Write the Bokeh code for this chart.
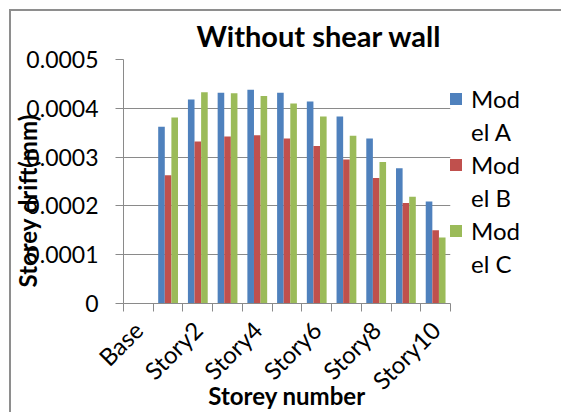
import math
from bokeh.plotting import figure
from bokeh.models import (ColumnDataSource, FixedTicker, Legend, LegendItem,
                          Title, Range1d, GlobalInlineStyleSheet)
from bokeh.transform import dodge
from bokeh.embed import file_html
from bokeh.resources import INLINE

# Storey drift (mm) per storey for three building models, no shear wall
categories = ["Base", "Story1", "Story2", "Story3", "Story4", "Story5",
              "Story6", "Story7", "Story8", "Story9", "Story10"]
model_a = [0, 0.000362, 0.000418, 0.000432, 0.000438, 0.000432,
           0.000414, 0.000383, 0.000338, 0.000277, 0.000209]
model_b = [0, 0.000263, 0.000332, 0.000342, 0.000345, 0.000338,
           0.000323, 0.000295, 0.000257, 0.000206, 0.000150]
model_c = [0, 0.000381, 0.000433, 0.000431, 0.000425, 0.000410,
           0.000383, 0.000344, 0.000290, 0.000219, 0.000135]
# legend entries wrap onto two lines in a narrow legend column
series_lines = [("Mod", "el A"), ("Mod", "el B"), ("Mod", "el C")]
series_colors = ["#4F81BD", "#C0504D", "#9BBB59"]
y_ticks = [0, 0.0001, 0.0002, 0.0003, 0.0004, 0.0005]
y_tick_labels = ["0", "0.0001", "0.0002", "0.0003", "0.0004", "0.0005"]

FONT = "Lato"
GRAY = "#8a8a8a"

# category slots on a numeric axis: slot i spans [i, i+1]
slot = [i + 0.5 for i in range(len(categories))]
src = ColumnDataSource(dict(x=slot, a=model_a, b=model_b, c=model_c))

p = figure(frame_width=327, frame_height=244, output_backend="svg",
           toolbar_location=None,
           x_range=Range1d(0, len(categories)), y_range=Range1d(0, 0.0005),
           min_border_left=114, min_border_right=111, min_border_top=50,
           min_border_bottom=100, outline_line_color=None,
           border_fill_color=None, margin=(9, 0, 0, 9))
# chart-area frame lines along the top and left edges; no page scrollbars
p.styles = {"box-shadow": "inset 2px 2px 0 0 #8e8e8e"}
p.stylesheets = [GlobalInlineStyleSheet(css="html, body { margin: 0; overflow: hidden; }")]

bw = 0.222
renderers = []
for col, off, color in zip(["a", "b", "c"], [-bw, 0, bw], series_colors):
    r = p.vbar(x=dodge("x", off, range=p.x_range), top=col, width=bw,
               source=src, fill_color=color, line_color=None)
    renderers.append(r)

# an empty, unfilled glyph carries the wrapped second line of each entry
blank = p.vbar(x=[], top=[], width=bw, fill_alpha=0, line_alpha=0)

# y axis
p.yaxis.ticker = FixedTicker(ticks=y_ticks, minor_ticks=[])
p.yaxis.major_label_overrides = {t: s for t, s in zip(y_ticks, y_tick_labels)}
p.yaxis.major_tick_out = 8
p.yaxis.major_tick_in = 0
p.yaxis.major_label_standoff = 17
p.yaxis.axis_line_color = GRAY
p.yaxis.major_tick_line_color = GRAY
p.yaxis.major_label_text_font = FONT
p.yaxis.major_label_text_font_size = "23px"
p.yaxis.major_label_text_color = "black"

# x axis: ticks on slot boundaries, labels on every other slot
lbl_pos = slot[::2]
p.xaxis.ticker = FixedTicker(ticks=lbl_pos, minor_ticks=list(range(len(categories) + 1)))
p.xaxis.major_label_overrides = {pos: categories[i * 2] for i, pos in enumerate(lbl_pos)}
p.xaxis.major_tick_line_color = None
p.xaxis.major_tick_out = 8
p.xaxis.major_tick_in = 0
p.xaxis.minor_tick_out = 8
p.xaxis.minor_tick_in = 0
p.xaxis.minor_tick_line_color = GRAY
p.xaxis.axis_line_color = GRAY
p.xaxis.major_label_orientation = math.pi / 4
p.xaxis.major_label_standoff = 14
p.xaxis.major_label_text_font = FONT
p.xaxis.major_label_text_font_size = "24px"
p.xaxis.major_label_text_color = "black"
p.xaxis.axis_label = "Storey number"
p.xaxis.axis_label_standoff = -27
p.xaxis.axis_label_text_font = FONT
p.xaxis.axis_label_text_font_size = "24px"
p.xaxis.axis_label_text_font_style = "bold"
p.xaxis.axis_label_text_color = "black"

p.xgrid.grid_line_color = None
p.ygrid.grid_line_color = GRAY
p.ygrid.ticker = FixedTicker(ticks=y_ticks)

# chart title
p.title = Title(text="Without shear wall", align="left", offset=73,
                text_font=FONT, text_font_size="29px", text_font_style="bold",
                text_color="black", standoff=13)

# vertical axis title, drawn over the tick-label column
p.add_layout(Title(text="Storey drift(mm)", align="left", offset=16,
                   text_font=FONT, text_font_size="24px", text_font_style="bold",
                   text_color="black", standoff=-36), "left")

items = []
for (first, second), r in zip(series_lines, renderers):
    items.append(LegendItem(label=first, renderers=[r]))
    items.append(LegendItem(label=second, renderers=[blank]))

legend = Legend(items=items, location=(-2, 25), padding=0, margin=0, spacing=4,
                border_line_color=None, background_fill_alpha=0,
                glyph_width=15, glyph_height=15, label_standoff=8,
                label_text_font=FONT, label_text_font_size="24px",
                label_text_color="black")
p.add_layout(legend, "right")

open("out.html", "w").write(file_html(p, INLINE))
